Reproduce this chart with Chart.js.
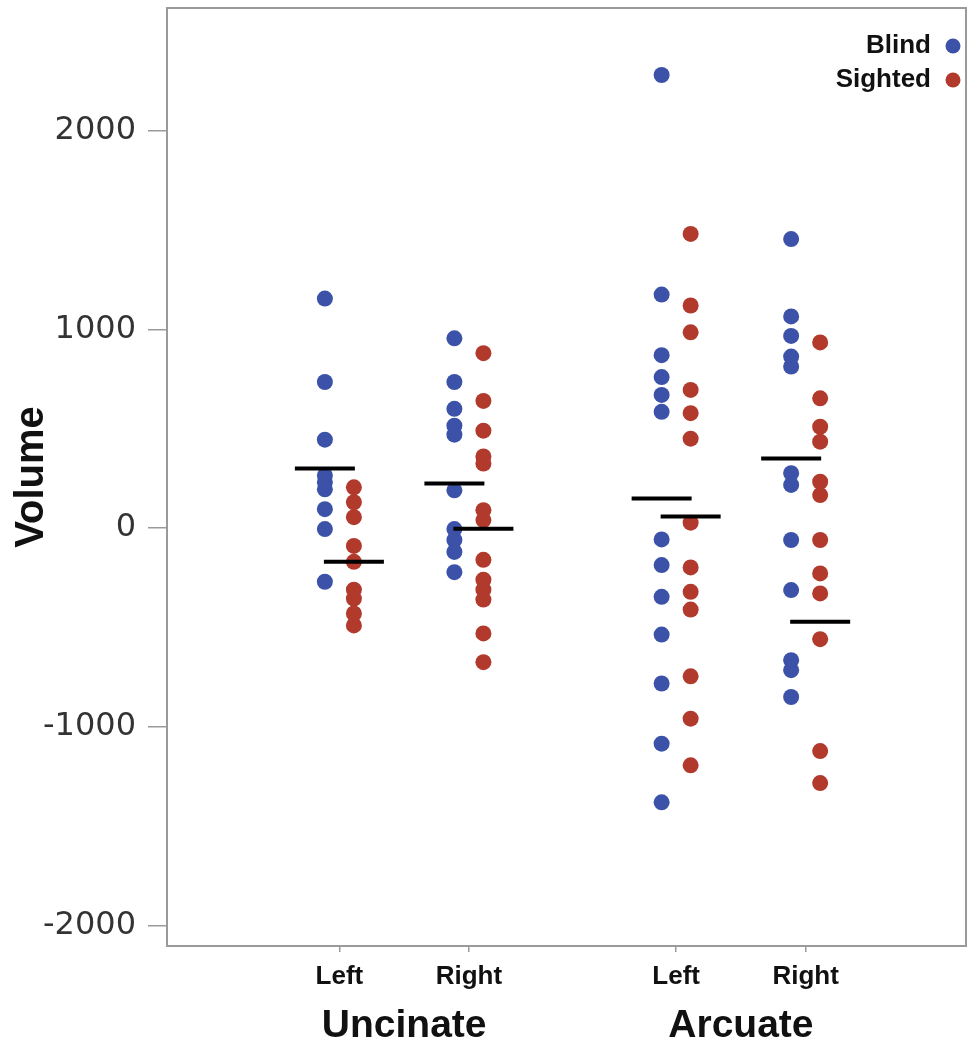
<!DOCTYPE html>
<html>
<head>
<meta charset="utf-8">
<title>Tract volume, blind vs sighted</title>
<script src="https://cdn.jsdelivr.net/npm/chart.js@4.4.0/dist/chart.umd.min.js"></script>
<style>
  body { margin: 0; background: #fff; }
  canvas { display: block; }
</style>
</head>
<body>
<canvas id="chart1" width="971" height="1047"></canvas>
<script>
// labels
let tracts = ['Uncinate', 'Arcuate']
let sides = ['Left', 'Right', 'Left', 'Right']
let groups = ['Blind', 'Sighted']
let yTicks = [-2000, -1000, 0, 1000, 2000]

// volumes
let blindUncLeft = [1155, 735, 445, 265, 230, 195, 95, -5, -270]
let blindUncRight = [955, 735, 600, 515, 470, 190, -5, -60, -120, -222]
let blindArcLeft = [2280, 1175, 870, 760, 670, 585, -57, -186, -346, -536, -782, -1085, -1380]
let blindArcRight = [1454, 1065, 967, 863, 813, 276, 217, -60, -312, -665, -715, -850]

let sightedUncLeft = [205, 130, 55, -90, -170, -310, -355, -430, -490]
let sightedUncRight = [880, 640, 490, 360, 325, 90, 40, -160, -260, -310, -360, -530, -675]
let sightedArcLeft = [1480, 1120, 985, 695, 578, 450, 27, -198, -321, -410, -746, -959, -1194]
let sightedArcRight = [934, 653, 510, 435, 233, 166, -60, -228, -329, -559, -1122, -1283]

// group means (black bars)
let blindMeans = [300, 224, 149, 350]
let sightedMeans = [-169, -3, 58, -471]

// layout on the x scale
let slotX = [1, 2, 3.6, 4.6]
let shift = 0.112
let blue = '#3c52a8'
let red = '#b23a2c'

function toPoints(lists, dx) {
    let pts = []
    lists.forEach((vals, i) => {
        vals.forEach(v => pts.push({x: slotX[i] + dx, y: v}))
    })
    return pts
}

let blindPts = toPoints([blindUncLeft, blindUncRight, blindArcLeft, blindArcRight], -shift)
let sightedPts = toPoints([sightedUncLeft, sightedUncRight, sightedArcLeft, sightedArcRight], shift)
let meanPts = blindMeans.map((v, i) => ({x: slotX[i] - shift, y: v}))
    .concat(sightedMeans.map((v, i) => ({x: slotX[i] + shift, y: v})))

// no label overflow padding, the frame sets the plot box
function noPad(s) {
    s.paddingTop = 0
    s.paddingBottom = 0
    s.paddingLeft = 0
    s.paddingRight = 0
}

// frame, group names under the ticks, legend in the corner
let extras = {
    id: 'extras',
    afterDraw(chart) {
        let ctx = chart.ctx
        let a = chart.chartArea
        let xs = chart.scales.x
        ctx.save()
        ctx.strokeStyle = '#9a9a9a'
        ctx.lineWidth = 2
        ctx.strokeRect(a.left, a.top, a.right - a.left, a.bottom - a.top)

        ctx.fillStyle = '#111'
        ctx.font = 'bold 39px "Liberation Sans"'
        ctx.textAlign = 'center'
        ctx.textBaseline = 'middle'
        tracts.forEach((t, i) => {
            let mid = (slotX[2 * i] + slotX[2 * i + 1]) / 2
            ctx.fillText(t, xs.getPixelForValue(mid), 1026)
        })

        ctx.font = 'bold 26px "Liberation Sans"'
        ctx.textAlign = 'right'
        let sets = chart.data.datasets.filter(d => groups.includes(d.label))
        sets.forEach((d, i) => {
            let y = 46 + i * 34
            ctx.fillStyle = '#111'
            ctx.fillText(d.label, 931, y)
            ctx.fillStyle = d.backgroundColor
            ctx.beginPath()
            ctx.arc(953, y, 7.5, 0, Math.PI * 2)
            ctx.fill()
        })
        ctx.restore()
    }
}

Chart.defaults.font.family = '"Liberation Sans", Arial, sans-serif'

let ctx1 = document.getElementById('chart1').getContext('2d')
let chart = new Chart(ctx1, {
    type: 'scatter',
    data: {
        datasets: [{
            label: 'Mean',
            data: meanPts,
            pointStyle: 'line',
            pointRadius: 30,
            pointHoverRadius: 30,
            pointBorderWidth: 4,
            pointBorderColor: '#000',
            backgroundColor: '#000',
            order: 0
        }, {
            label: groups[0],
            data: blindPts,
            backgroundColor: blue,
            borderColor: blue,
            pointRadius: 8,
            pointBorderWidth: 0,
            order: 1
        }, {
            label: groups[1],
            data: sightedPts,
            backgroundColor: red,
            borderColor: red,
            pointRadius: 8,
            pointBorderWidth: 0,
            order: 2
        }]
    },
    options: {
        responsive: false,
        animation: false,
        layout: {autoPadding: false, padding: {top: 8, right: 5, left: 0, bottom: 0}},
        plugins: {legend: {display: false}, tooltip: {enabled: false}},
        scales: {
            x: {
                type: 'linear',
                min: -0.331,
                max: 5.838,
                afterBuildTicks: s => { s.ticks = slotX.map(v => ({value: v})) },
                afterFit: s => { s.height = 101; noPad(s) },
                border: {display: false},
                grid: {drawOnChartArea: false, tickLength: 6, tickColor: '#9a9a9a', lineWidth: 1.5},
                ticks: {
                    autoSkip: false,
                    maxRotation: 0,
                    padding: 9,
                    color: '#111',
                    font: {size: 26, weight: 'bold'},
                    callback: (v, i) => sides[i]
                }
            },
            y: {
                min: -2103,
                max: 2617,
                afterBuildTicks: s => { s.ticks = yTicks.map(v => ({value: v})) },
                afterFit: s => { s.width = 167; noPad(s) },
                border: {display: false},
                grid: {drawOnChartArea: false, tickLength: 19, tickColor: '#9a9a9a', lineWidth: 1.5},
                ticks: {
                    padding: 12,
                    color: '#333',
                    font: {family: '"DejaVu Sans"', size: 32},
                    callback: v => String(v)
                },
                title: {
                    display: true,
                    text: 'Volume',
                    color: '#111',
                    font: {size: 40, weight: 'bold'},
                    padding: {top: 8, bottom: 0}
                }
            }
        }
    },
    plugins: [extras]
})
</script>
</body>
</html>
